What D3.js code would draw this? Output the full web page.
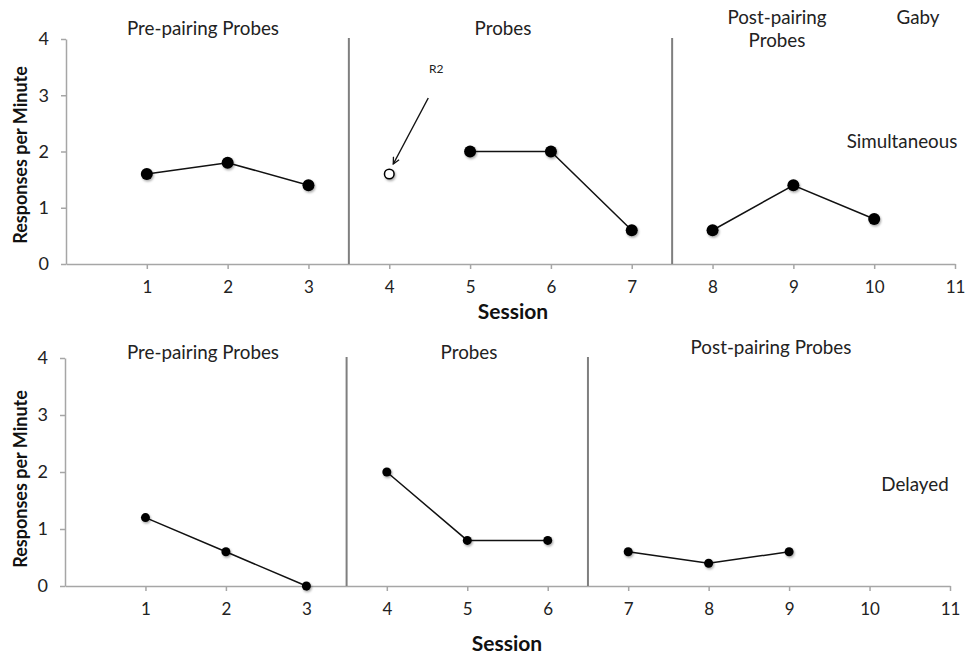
<!DOCTYPE html>
<html>
<head>
<meta charset="utf-8">
<script src="https://cdn.jsdelivr.net/npm/d3@7"></script>
<style>
  html, body { margin: 0; padding: 0; background: #fff; }
  svg { display: block; font-family: "Lato", "Open Sans", sans-serif; }
</style>
</head>
<body>
<svg id="chart" width="969" height="654"></svg>
<script>
// Session tick labels and y ticks
const sessionTicks = [1, 2, 3, 4, 5, 6, 7, 8, 9, 10, 11];
const rateTicks = [0, 1, 2, 3, 4];

// Simultaneous condition
const simPreSessions = [1, 2, 3];
const simPreValues = [1.6, 1.8, 1.4];
const simR2Sessions = [4];
const simR2Values = [1.6];
const simProbeSessions = [5, 6, 7];
const simProbeValues = [2.0, 2.0, 0.6];
const simPostSessions = [8, 9, 10];
const simPostValues = [0.6, 1.4, 0.8];
const simPhaseChanges = [3.5, 7.5];

// Delayed condition
const delPreSessions = [1, 2, 3];
const delPreValues = [1.2, 0.6, 0.0];
const delProbeSessions = [4, 5, 6];
const delProbeValues = [2.0, 0.8, 0.8];
const delPostSessions = [7, 8, 9];
const delPostValues = [0.6, 0.4, 0.6];
const delPhaseChanges = [3.5, 6.5];

const FONT = "Lato, 'Open Sans', sans-serif";
const svg = d3.select("#chart");

const defs = svg.append("defs");
const shadow = defs.append("filter").attr("id", "shadow")
  .attr("x", "-50%").attr("y", "-50%").attr("width", "200%").attr("height", "200%");
shadow.append("feDropShadow").attr("dx", 1).attr("dy", 1.5)
  .attr("stdDeviation", 1.2).attr("flood-color", "#000").attr("flood-opacity", 0.35);

const marker = defs.append("marker").attr("id", "arrowhead")
  .attr("viewBox", "0 0 10 10").attr("refX", 9).attr("refY", 5)
  .attr("markerWidth", 8).attr("markerHeight", 8).attr("orient", "auto-start-reverse")
  .attr("markerUnits", "userSpaceOnUse");
marker.append("path").attr("d", "M1,1 L9,5 L1,9").attr("fill", "none")
  .attr("stroke", "#111").attr("stroke-width", 1.6);

const pair = (s, v) => s.map((d, i) => ({ s: d, v: v[i] }));

const panels = [
  {
    xRange: [66, 955], yRange: [264, 39], r: 6,
    phases: simPhaseChanges, phaseTop: 38,
    series: [pair(simPreSessions, simPreValues), pair(simProbeSessions, simProbeValues), pair(simPostSessions, simPostValues)],
    open: pair(simR2Sessions, simR2Values),
    labels: [
      { t: "Pre-pairing Probes", x: 203, y: 27 },
      { t: "Probes", x: 503, y: 27 },
      { t: "Post-pairing", x: 777, y: 16 },
      { t: "Probes", x: 777, y: 39 },
      { t: "Gaby", x: 918, y: 16 },
      { t: "Simultaneous", x: 902, y: 140 }
    ],
    sessionX: 513, sessionY: 310, yTitleY: 155
  },
  {
    xRange: [65, 950], yRange: [586, 358], r: 4.5,
    phases: delPhaseChanges, phaseTop: 357,
    series: [pair(delPreSessions, delPreValues), pair(delProbeSessions, delProbeValues), pair(delPostSessions, delPostValues)],
    open: [],
    labels: [
      { t: "Pre-pairing Probes", x: 203, y: 351 },
      { t: "Probes", x: 469, y: 351 },
      { t: "Post-pairing Probes", x: 771, y: 346 },
      { t: "Delayed", x: 915, y: 483 }
    ],
    sessionX: 507, sessionY: 642, yTitleY: 479
  }
];

panels.forEach(p => {
  const x = d3.scaleLinear().domain([0, 11]).range(p.xRange);
  const y = d3.scaleLinear().domain([0, 4]).range(p.yRange);
  const g = svg.append("g");

  // x axis
  const xAxis = g.append("g").attr("transform", `translate(0,${y(0)})`)
    .call(d3.axisBottom(x).tickValues(sessionTicks).tickFormat(d3.format("d"))
      .tickSize(5).tickPadding(12).tickSizeOuter(0));
  xAxis.attr("font-family", FONT).attr("font-size", 17);
  xAxis.select(".domain").attr("stroke", "#a6a6a6").attr("stroke-width", 1.5);
  xAxis.selectAll(".tick line").attr("stroke", "#a6a6a6").attr("stroke-width", 1.5);
  xAxis.selectAll(".tick text").attr("fill", "#222");

  // y axis
  const yAxis = g.append("g").attr("transform", `translate(${x(0)},0)`)
    .call(d3.axisLeft(y).tickValues(rateTicks).tickFormat(d3.format("d"))
      .tickSize(5).tickPadding(12).tickSizeOuter(0));
  yAxis.attr("font-family", FONT).attr("font-size", 18);
  yAxis.select(".domain").attr("stroke", "#a6a6a6").attr("stroke-width", 1.5);
  yAxis.selectAll(".tick line").attr("stroke", "#a6a6a6").attr("stroke-width", 1.5);
  yAxis.selectAll(".tick text").attr("fill", "#222");

  // phase change lines
  g.selectAll(".phase").data(p.phases).join("line")
    .attr("x1", d => x(d)).attr("x2", d => x(d))
    .attr("y1", p.phaseTop).attr("y2", y(0))
    .attr("stroke", "#7f7f7f").attr("stroke-width", 2);

  // data paths and markers
  const line = d3.line().x(d => x(d.s)).y(d => y(d.v));
  p.series.forEach(s => {
    g.append("path").datum(s).attr("d", line)
      .attr("fill", "none").attr("stroke", "#111").attr("stroke-width", 1.5);
    g.selectAll(null).data(s).join("circle")
      .attr("cx", d => x(d.s)).attr("cy", d => y(d.v)).attr("r", p.r)
      .attr("fill", "#000").attr("filter", "url(#shadow)");
  });
  g.selectAll(null).data(p.open).join("circle")
    .attr("cx", d => x(d.s)).attr("cy", d => y(d.v)).attr("r", p.r - 1.2)
    .attr("fill", "#fff").attr("stroke", "#000").attr("stroke-width", 1.5)
    .attr("filter", "url(#shadow)");

  // R2 annotation
  if (p.open.length) {
    const o = p.open[0];
    g.append("line")
      .attr("x1", x(o.s) + 39).attr("y1", y(o.v) - 76)
      .attr("x2", x(o.s) + 4).attr("y2", y(o.v) - 10)
      .attr("stroke", "#111").attr("stroke-width", 1.4)
      .attr("marker-end", "url(#arrowhead)");
    g.append("text").text("R2").attr("x", x(o.s) + 47).attr("y", y(o.v) - 106)
      .attr("text-anchor", "middle").attr("dominant-baseline", "central")
      .attr("font-family", FONT).attr("font-size", 12).attr("fill", "#222");
  }

  // phase and condition labels
  g.selectAll(null).data(p.labels).join("text")
    .text(d => d.t).attr("x", d => d.x).attr("y", d => d.y)
    .attr("text-anchor", "middle").attr("dominant-baseline", "central")
    .attr("font-family", FONT).attr("font-size", 18.8).attr("fill", "#222");

  // axis titles
  g.append("text").text("Session").attr("x", p.sessionX).attr("y", p.sessionY)
    .attr("text-anchor", "middle").attr("dominant-baseline", "central")
    .attr("font-family", FONT).attr("font-size", 21).attr("font-weight", "bold").attr("fill", "#111");
  g.append("text").text("Responses per Minute")
    .attr("transform", `translate(20,${p.yTitleY}) rotate(-90)`)
    .attr("text-anchor", "middle").attr("dominant-baseline", "central")
    .attr("font-family", FONT).attr("font-size", 18).attr("font-weight", "bold").attr("fill", "#111");
});
</script>
</body>
</html>
